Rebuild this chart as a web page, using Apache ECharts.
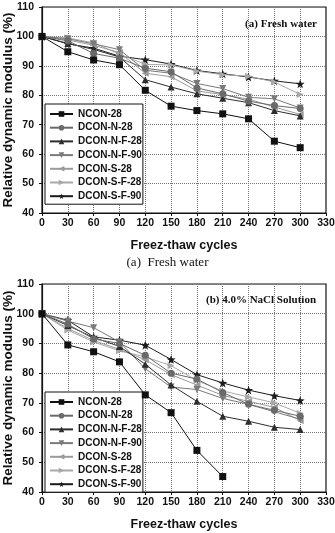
<!DOCTYPE html>
<html>
<head>
<meta charset="utf-8">
<script src="https://cdn.jsdelivr.net/npm/echarts@6/dist/echarts.min.js"></script>
<style>
  html, body { margin: 0; padding: 0; background: #fff; }
  #chart { width: 335px; height: 533px; }
</style>
</head>
<body>
<div id="chart"></div>
<script>
// freeze-thaw cycles (x axis)
var cycles = [0, 30, 60, 90, 120, 150, 180, 210, 240, 270, 300];
var yTicks = [40, 50, 60, 70, 80, 90, 100, 110];
var names = ['NCON-28', 'DCON-N-28', 'DCON-N-F-28', 'DCON-N-F-90', 'DCON-S-28', 'DCON-S-F-28', 'DCON-S-F-90'];

// (a) fresh water
var freshNCON28   = [100, 94.8, 92.0, 90.4, 81.7, 76.3, 74.8, 73.7, 72.0, 64.4, 62.2];
var freshDCONN28  = [100, 98.5, 94.2, 92.6, 89.2, 88.0, 82.5, 80.5, 78.0, 76.5, 75.5];
var freshDCONNF28 = [100, 97.6, 95.6, 93.0, 85.3, 82.8, 80.5, 79.0, 77.5, 74.8, 73.0];
var freshDCONNF90 = [100, 99.2, 97.5, 95.5, 88.5, 87.5, 84.0, 82.3, 79.3, 78.8, 75.7];
var freshDCONS28  = [100, 98.8, 97.0, 94.5, 87.5, 86.3, 81.5, 80.2, 78.7, 76.0, 73.5];
var freshDCONSF28 = [100, 99.5, 97.8, 94.0, 90.5, 90.3, 88.2, 87.0, 86.5, 84.5, 80.3];
var freshDCONSF90 = [100, 97.5, 96.0, 93.3, 92.1, 90.6, 88.4, 87.3, 86.2, 84.9, 83.9];

// (b) 4.0% NaCl solution
var naclNCON28   = [100, 89.5, 87.2, 83.8, 72.7, 66.7, 54.0, 45.2, null, null, null];
var naclDCONN28  = [100, 96.5, 91.5, 90.0, 86.0, 80.0, 78.0, 73.5, 69.5, 67.5, 65.5];
var naclDCONNF28 = [100, 96.0, 92.0, 89.0, 83.0, 76.0, 70.5, 65.5, 63.8, 61.8, 61.0];
var naclDCONNF90 = [100, 97.5, 95.3, 90.5, 81.5, 75.3, 74.5, 71.5, 69.5, 67.0, 64.5];
var naclDCONS28  = [100, 95.0, 91.0, 88.0, 84.5, 79.5, 76.0, 72.5, 70.5, 68.5, 64.0];
var naclDCONSF28 = [100, 94.5, 90.5, 87.5, 85.5, 82.5, 77.5, 74.0, 72.0, 70.0, 66.5];
var naclDCONSF90 = [100, 97.8, 92.2, 91.1, 89.4, 84.6, 79.5, 76.7, 74.3, 72.4, 70.8];

var freshData = [freshNCON28, freshDCONN28, freshDCONNF28, freshDCONNF90, freshDCONS28, freshDCONSF28, freshDCONSF90];
var naclData = [naclNCON28, naclDCONN28, naclDCONNF28, naclDCONNF90, naclDCONS28, naclDCONSF28, naclDCONSF90];

var starPath = 'path://M50,0 L61.76,33.82 L97.55,34.55 L69.02,56.18 L79.39,90.45 L50,70 L20.61,90.45 L30.98,56.18 L2.45,34.55 L38.24,33.82 Z';
var symbols = [
    'rect',
    'circle',
    'path://M5,0 L10,10 L0,10 Z',
    'path://M0,0 L10,0 L5,10 Z',
    'path://M10,0 L10,10 L0,5 Z',
    'path://M0,0 L0,10 L10,5 Z',
    starPath
];
var colors = ['#111111', '#6a6a6a', '#2e2e2e', '#7a7a7a', '#9a9a9a', '#a8a8a8', '#1c1c1c'];
var sizes = [7, 7, 7, 7, 7, 7, 9];

var font = 'Liberation Sans, Arial, sans-serif';
var serif = 'Liberation Serif, Times New Roman, serif';

function makeXAxis(idx) {
    return {
        gridIndex: idx,
        type: 'value',
        min: 0, max: 330, interval: 30,
        name: 'Freez-thaw cycles',
        nameLocation: 'middle',
        nameGap: 26,
        nameTextStyle: { fontFamily: font, fontSize: 12.5, fontWeight: 'bold', color: '#111' },
        axisLine: { lineStyle: { color: '#111', width: 1.2 } },
        axisTick: { show: true, length: 3, lineStyle: { color: '#111' } },
        axisLabel: { fontFamily: font, fontSize: 10.5, fontWeight: 'bold', color: '#111', margin: 5 },
        splitLine: { show: true, lineStyle: { color: '#777', type: [1, 1], width: 1 } }
    };
}
function makeYAxis(idx) {
    return {
        gridIndex: idx,
        type: 'value',
        min: yTicks[0], max: yTicks[yTicks.length - 1], interval: 10,
        name: 'Relative dynamic modulus (%)',
        nameLocation: 'middle',
        nameGap: 27,
        nameMoveOverlap: false,
        nameTextStyle: { fontFamily: font, fontSize: 13.5, fontWeight: 'bold', color: '#111' },
        axisLine: { show: true, lineStyle: { color: '#111', width: 1.2 } },
        axisTick: { show: true, length: 3, lineStyle: { color: '#111' } },
        axisLabel: { fontFamily: font, fontSize: 10.5, fontWeight: 'bold', color: '#111', margin: 8 },
        splitLine: { show: true, lineStyle: { color: '#777', type: [1, 1], width: 1 } }
    };
}

function makeSeries(dataSets, idx) {
    return dataSets.map(function (vals, i) {
        return {
            name: names[i],
            type: 'line',
            xAxisIndex: idx,
            yAxisIndex: idx,
            data: cycles.map(function (c, k) { return [c, vals[k]]; }),
            symbol: symbols[i],
            symbolSize: sizes[i],
            showAllSymbol: true,
            connectNulls: false,
            color: colors[i],
            lineStyle: { color: colors[i], width: 1 },
            itemStyle: { color: colors[i] },
            z: 10 - i,
            animation: false
        };
    });
}

function makeLegend(top) {
    return {
        orient: 'vertical',
        left: 45,
        top: top,
        data: names,
        itemWidth: 23,
        itemHeight: 7,
        itemGap: 1.7,
        padding: [4, 1, 2, 4],
        backgroundColor: '#fff',
        borderColor: '#111',
        borderWidth: 1,
        borderRadius: 0,
        selectedMode: false,
        textStyle: { fontFamily: font, fontSize: 10, lineHeight: 12, fontWeight: 'bold', color: '#111' }
    };
}

var myChart = echarts.init(document.getElementById('chart'), null, { renderer: 'canvas' });

var option = {
    backgroundColor: '#fff',
    animation: false,
    grid: [
        { left: 42, top: 7, width: 284, height: 206, outerBoundsMode: 'none', containLabel: false, show: true, borderColor: '#111', borderWidth: 1.2, backgroundColor: 'transparent' },
        { left: 42, top: 284, width: 284, height: 208, outerBoundsMode: 'none', containLabel: false, show: true, borderColor: '#111', borderWidth: 1.2, backgroundColor: 'transparent' }
    ],
    xAxis: [makeXAxis(0), makeXAxis(1)],
    yAxis: [makeYAxis(0), makeYAxis(1)],
    legend: [
        Object.assign(makeLegend(104), { id: 'la' }),
        Object.assign(makeLegend(392), { id: 'lb' })
    ],
    graphic: [
        {
            type: 'text', right: 18, top: 19, z: 100,
            style: { text: '(a) Fresh water', font: 'bold 11px ' + serif, fill: '#111' }
        },
        {
            type: 'text', right: 19, top: 295, z: 100,
            style: { text: '(b) 4.0% NaCl Solution', font: 'bold 11px ' + serif, fill: '#111' }
        },
        {
            type: 'text', left: 'center', top: 256, z: 100,
            style: { text: '(a)  Fresh water', font: '13px ' + serif, fill: '#111' }
        }
    ],
    series: makeSeries(freshData, 0).concat(makeSeries(naclData, 1))
};

myChart.setOption(option);
</script>
</body>
</html>
